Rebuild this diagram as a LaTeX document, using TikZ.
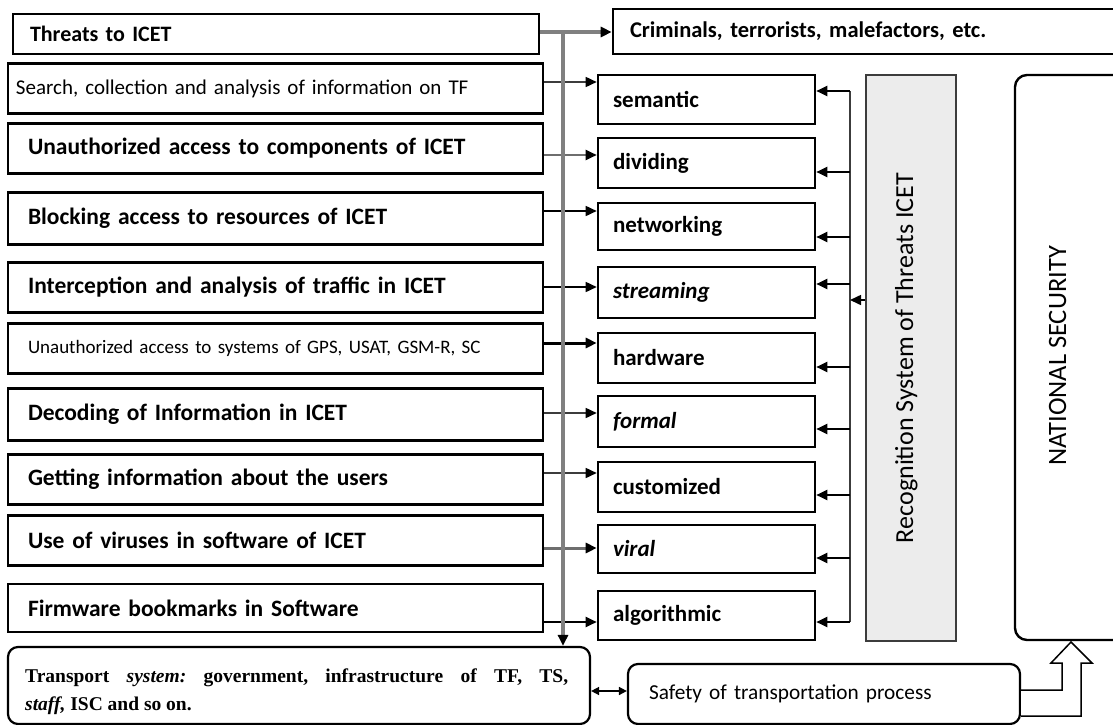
\documentclass[tikz,border=0pt]{standalone}
\usepackage{fontspec}
\setmainfont{Carlito}
\newfontfamily\trserif{Liberation Serif}
\usetikzlibrary{arrows.meta}
\definecolor{recfill}{RGB}{236,236,236}
\definecolor{busgray}{RGB}{128,128,128}
\definecolor{dgray}{RGB}{60,60,60}
\definecolor{mgray}{RGB}{110,110,110}
\begin{document}
\begin{tikzpicture}[x=1pt,y=-1pt,
  lbox/.style={draw=black, line width=2.6pt, fill=white, minimum height=50pt, inner xsep=20pt, text width=495pt, align=left, font=\fontsize{23.5}{27}\selectfont\bfseries},
  mbox/.style={draw=black, line width=2.6pt, fill=white, minimum height=50pt, inner xsep=15pt, text width=187pt, align=left, font=\fontsize{23}{27}\selectfont\bfseries},
  rbox/.style={draw=black, line width=2.2pt, fill=white, rounded corners=10pt},
  tipk/.style={-{Triangle[length=11pt,width=10pt,color=black]}},
  larr/.style={tipk, line width=1.6pt},
  barr/.style={tipk, line width=2pt, draw=black},
  gline/.style={line width=4pt, draw=busgray}
]
\useasboundingbox (0,0) rectangle (1113,725);
\clip (0,0) rectangle (1113,725);

% left column
\node[lbox, inner xsep=17pt, text width=492pt, minimum height=40pt, font=\fontsize{22}{26}\selectfont\bfseries] (thr) at (276,34) {Threats to ICET};
\node[lbox, inner xsep=8pt, text width=519pt, font=\fontsize{21}{25}\selectfont] (s1) at (275.5,88.5) {Search, collection and analysis of information on TF};
\node[lbox] (s2) at (275.5,148.5) {Unauthorized access to components of ICET};
\node[lbox, minimum height=52pt] (s3) at (275.5,218.5) {Blocking access to resources of ICET};
\node[lbox] (s4) at (275.5,287.5) {Interception and analysis of traffic in ICET};
\node[lbox, font=\fontsize{19}{23}\selectfont] (s5) at (275.5,348.5) {Unauthorized access to systems of GPS, USAT, GSM-R, SC};
\node[lbox, minimum height=52pt] (s6) at (275.5,414.5) {Decoding of Information in ICET};
\node[lbox] (s7) at (275.5,479.5) {Getting information about the users};
\node[lbox] (s8) at (275.5,540.5) {Use of viruses in software of ICET};
\node[lbox, minimum height=48pt] (s9) at (275.5,608) {Firmware bookmarks in Software};

% middle column
\node[mbox, minimum height=49pt] (m1) at (706.5,99.5) {semantic};
\node[mbox] (m2) at (706.5,163) {dividing};
\node[mbox, minimum height=47pt] (m3) at (706.5,226.5) {networking};
\node[mbox, minimum height=51pt, font=\fontsize{23}{27}\selectfont\bfseries\itshape] (m4) at (706.5,292.5) {streaming};
\node[mbox] (m5) at (706.5,358) {hardware};
\node[mbox, minimum height=51pt, font=\fontsize{23}{27}\selectfont\bfseries\itshape] (m6) at (706.5,421.5) {formal};
\node[mbox] (m7) at (706.5,487) {customized};
\node[mbox, minimum height=48pt, font=\fontsize{23}{27}\selectfont\bfseries\itshape] (m8) at (706.5,549) {viral};
\node[mbox, minimum height=49pt] (m9) at (706.5,615.5) {algorithmic};

% top right
\node[draw=black, line width=2.6pt, fill=white, minimum width=527pt, minimum height=45pt, inner xsep=17pt, text width=493pt, align=left, font=\fontsize{22.5}{26}\selectfont\bfseries] (crim) at (876.5,31.5) {Criminals, terrorists, malefactors, etc.};

% recognition system
\node[draw=dgray, line width=2.4pt, fill=recfill, minimum width=90pt, minimum height=566pt] (rec) at (911,358) {};
\node[rotate=90, anchor=base, font=\fontsize{26}{30}\selectfont] (rect) at (913,358) {Recognition System of Threats ICET};

% national security
\node[draw=black, line width=2.4pt, rounded corners=12pt, minimum width=125pt, minimum height=565pt] (ns) at (1077.5,357.5) {};
\node[rotate=90, anchor=base, font=\fontsize{26.5}{30}\selectfont] (nst) at (1066,356) {NATIONAL SECURITY};

% bottom boxes
\node[rbox, minimum width=582pt, minimum height=77pt] (trn) at (299,685.5) {};
\node[anchor=north west, inner sep=0pt, text width=543pt, align=justify, font=\trserif\bfseries\fontsize{19.5}{28}\selectfont\frenchspacing] (trntxt) at (25,669) {Transport \textit{system:} government, infrastructure of TF, TS,\linebreak \textit{staff,} ISC and so on.};
\node[rbox, minimum width=392pt, minimum height=60pt, inner xsep=21pt, text width=350pt, align=left, font=\fontsize{21.3}{25}\selectfont] (saf) at (824,694) {Safety of transportation process};

% arrows from threats to middle column
\draw[larr, draw=dgray] (s1.east |- 0,82) -- (m1.west |- 0,82);
\draw[larr, draw=mgray, line width=2pt] (s2.east |- 0,155) -- (m2.west |- 0,155);
\draw[larr, draw=black] (s3.east |- 0,211) -- (m3.west |- 0,211);
\draw[larr, draw=black] (s4.east |- 0,287) -- (m4.west |- 0,287);
\draw[larr, draw=black, line width=3pt] (s5.east |- 0,343) -- (m5.west |- 0,343);
\draw[larr, draw=dgray] (s6.east |- 0,413) -- (m6.west |- 0,413);
\draw[larr, draw=dgray] (s7.east |- 0,473) -- (m7.west |- 0,473);
\draw[larr, draw=mgray, line width=3pt] (s8.east |- 0,548) -- (m8.west |- 0,548);
\draw[larr, draw=black, line width=2pt] (s9.east |- 0,622) -- (m9.west |- 0,622);

% gray trunk
\coordinate (j) at (563,32);
\draw[gline, tipk] (thr.east |- j) -- (crim.west |- j);
\draw[gline, tipk] (j) -- (j |- trn.north);

% bus from recognition system
\coordinate (bt) at (850,91);
\coordinate (bb) at (850,622);
\draw[line width=2pt, draw=dgray] (bt) -- (bb);
\draw[barr] (bt |- 0,91) -- (m1.east |- 0,91);
\draw[barr] (bt |- 0,172) -- (m2.east |- 0,172);
\draw[barr] (bt |- 0,237) -- (m3.east |- 0,237);
\draw[barr] (bt |- 0,284) -- (m4.east |- 0,284);
\draw[barr] (bt |- 0,367) -- (m5.east |- 0,367);
\draw[barr] (bt |- 0,429) -- (m6.east |- 0,429);
\draw[barr] (bt |- 0,495) -- (m7.east |- 0,495);
\draw[barr] (bt |- 0,558) -- (m8.east |- 0,558);
\draw[barr] (bb) -- (m9.east |- bb);
\draw[barr, line width=1.6pt] (rec.west |- 0,300) -- (bt |- 0,300);

% transport <-> safety
\draw[line width=1.6pt, {Triangle[length=8pt,width=8pt]}-{Triangle[length=8pt,width=8pt]}] (trn.east |- 0,691) -- (saf.west |- 0,691);

% hollow arrow safety -> national security
\coordinate (hat) at (1071,642);
\draw[line width=1.5pt, fill=white, line join=miter] (saf.east |- 0,690) -- (1062,690) -- (1062,663) -- (1051,663) -- (hat) -- (1092,663) -- (1081,663) -- (1081,716) -- (saf.east |- 0,716);
\end{tikzpicture}
\end{document}
